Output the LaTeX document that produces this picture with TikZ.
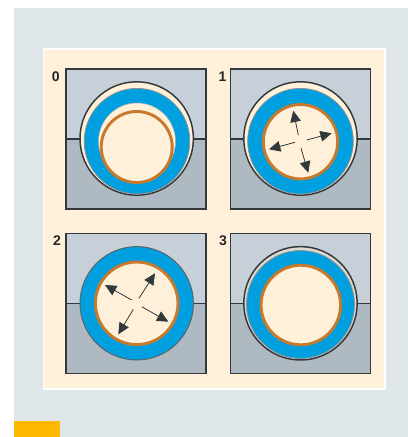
\documentclass[tikz,border=0pt]{standalone}
\usepackage{fontspec}
\setsansfont{Liberation Sans}
\usepackage[dvipsnames]{xcolor}
\usetikzlibrary{arrows.meta}
\definecolor{pagegrey}{HTML}{DFE6EA}
\definecolor{panelcream}{HTML}{FFF0D9}
\definecolor{housetop}{HTML}{C7D0D8}
\definecolor{housebot}{HTML}{AEB9C2}
\definecolor{ringblue}{HTML}{009FDF}
\definecolor{ringcopper}{HTML}{C7792C}
\definecolor{tabyellow}{HTML}{FFB800}
\definecolor{edgedark}{HTML}{33383C}
\tikzset{
  edge/.style={draw=edgedark,line width=1.1pt},
  blue ring/.style={draw=edgedark!55,line width=0.6pt,fill=ringblue},
  copper/.style={draw=ringcopper,line width=2.2pt,fill=panelcream},
  force/.style={-{Triangle[length=8.5pt,width=8pt]},draw=edgedark,line width=0.6pt},
  tag/.style={font=\sffamily\bfseries\fontsize{10.5}{10.5}\selectfont,text=black!85}
}
\begin{document}
\begin{tikzpicture}[x=0.75pt,y=-0.75pt]
        % Page
        \useasboundingbox (0,0) rectangle (408,437);
        \fill[white] (0,0) rectangle (408,437);
        \fill[pagegrey] (14,8) rectangle (408,437);
        \fill[tabyellow] (14,421) rectangle (60,437);
        \fill[panelcream,draw=white,line width=1.2pt] (43.5,49) rectangle (385,389);
        % Housings
        \foreach \x/\y in {66/69,230.5/69,66/233.5,230.5/233.5}{
          \fill[housetop] (\x,\y) rectangle ++(140,70);
          \fill[housebot] (\x,\y+70) rectangle ++(140,70);
          \draw[edge] (\x,\y+70) -- ++(140,0);
          \draw[edge] (\x,\y) rectangle ++(140,140);
        }
        % Step 0
        \draw[edge,fill=panelcream] (136.7,138.5) circle (56.7);
        \draw[blue ring] (137,141.2) circle (52.8);
        \draw[draw=edgedark!40,line width=0.4pt,fill=panelcream] (137,141.5) circle (38.5);
        \draw[copper] (136.7,147) circle (35.5);
        % Step 1
        \draw[edge,fill=panelcream] (300.5,138.5) circle (56.7);
        \draw[blue ring] (300.5,141.2) circle (52.8);
        \draw[copper] (300.5,141.7) circle (37.2);
        \coordinate (a1) at (298.3,135);
        \coordinate (a2) at (293.3,110.7);
        \coordinate (b1) at (306.7,140);
        \coordinate (b2) at (331.7,133.3);
        \coordinate (c1) at (295,142.3);
        \coordinate (c2) at (269,149.3);
        \coordinate (d1) at (301,148.3);
        \coordinate (d2) at (308.3,172.7);
        \draw[force] (a1) -- (a2);
        \draw[force] (b1) -- (b2);
        \draw[force] (c1) -- (c2);
        \draw[force] (d1) -- (d2);
        % Step 2
        \draw[draw=edgedark!80,line width=0.7pt,fill=ringblue] (136.7,303.3) circle (56.7);
        \draw[copper] (136.7,303.3) circle (41.3);
        \coordinate (e1) at (131.7,300);
        \coordinate (e2) at (105,285);
        \coordinate (f1) at (139,298.3);
        \coordinate (f2) at (155,273.3);
        \coordinate (g1) at (133.3,309.3);
        \coordinate (g2) at (118.3,334.3);
        \coordinate (h1) at (141.7,306.7);
        \coordinate (h2) at (168.3,321.7);
        \draw[force] (e1) -- (e2);
        \draw[force] (f1) -- (f2);
        \draw[force] (g1) -- (g2);
        \draw[force] (h1) -- (h2);
        % Step 3
        \draw[edge,fill=panelcream!60!housebot] (300.5,303.3) circle (56.7);
        \draw[blue ring] (300.5,304.5) circle (54);
        \draw[copper] (300.8,305) circle (39.8);
        % Labels
        \node[tag] (zero) at (55.7,77) {0};
        \node[tag] (one) at (222.5,77) {1};
        \node[tag] (two) at (57,241) {2};
        \node[tag] (three) at (223,241) {3};
\end{tikzpicture}
\end{document}
